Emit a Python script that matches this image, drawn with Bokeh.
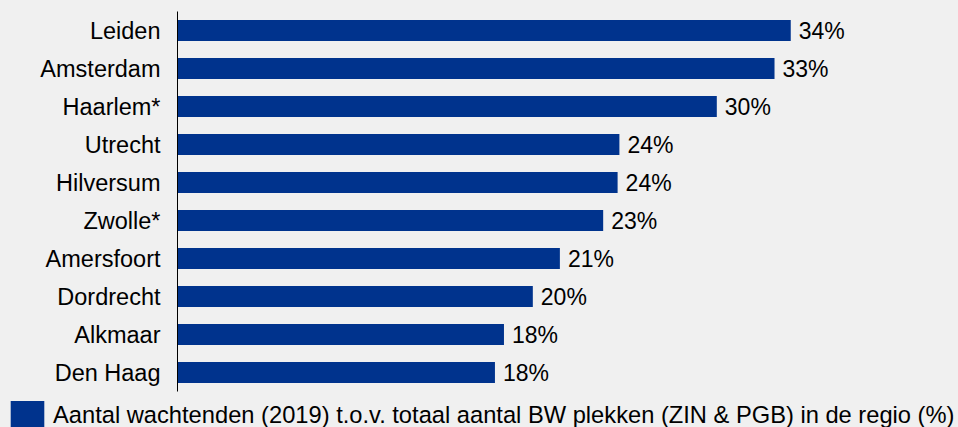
from bokeh.plotting import figure
from bokeh.models import ColumnDataSource, Range1d, FactorRange, Legend, LegendItem
from bokeh.layouts import column
from bokeh.core.properties import value
from bokeh.embed import file_html
from bokeh.resources import INLINE

cities = ["Leiden", "Amsterdam", "Haarlem*", "Utrecht", "Hilversum",
          "Zwolle*", "Amersfoort", "Dordrecht", "Alkmaar", "Den Haag"]
values = [34.0, 33.1, 29.9, 24.5, 24.4, 23.6, 21.2, 19.7, 18.1, 17.6]
labels = ["34%", "33%", "30%", "24%", "24%", "23%", "21%", "20%", "18%", "18%"]
legend_text = "Aantal wachtenden (2019) t.o.v. totaal aantal BW plekken (ZIN & PGB) in de regio (%)"

BG = "#f0f0f0"
BAR = "#00338D"
FONT = "Liberation Sans"

src = ColumnDataSource(dict(cities=cities, values=values, labels=labels))

p = figure(width=958, height=396, output_backend="svg", toolbar_location=None,
           y_range=FactorRange(*list(reversed(cities)), range_padding=0),
           x_range=Range1d(0, 43.3), x_axis_location=None,
           min_border_left=177, min_border_right=0, min_border_top=11,
           min_border_bottom=5)
p.background_fill_color = BG
p.border_fill_color = BG
p.outline_line_color = None
p.grid.visible = False

r = p.hbar(y="cities", right="values", left=0, height=0.55, source=src,
           fill_color=BAR, line_color=None)
p.text(x="values", y="cities", text="labels", source=src, x_offset=8,
       text_baseline="middle", text_align="left",
       text_font=value(FONT), text_font_size="23px", text_color="#000000")

ax = p.yaxis[0]
ax.axis_line_color = "#000000"
ax.axis_line_width = 1
ax.major_tick_line_color = None
ax.minor_tick_line_color = None
ax.major_tick_out = 0
ax.major_tick_in = 0
ax.major_label_standoff = 17
ax.major_label_text_font = FONT
ax.major_label_text_font_size = "23.5px"
ax.major_label_text_color = "#000000"

# legend strip below the chart
p2 = figure(width=958, height=31, output_backend="svg", toolbar_location=None,
            y_range=FactorRange(*cities), x_range=Range1d(-10, -5),
            x_axis_location=None, y_axis_location=None,
            min_border_left=0, min_border_right=0, min_border_top=0,
            min_border_bottom=0)
p2.background_fill_color = BG
p2.border_fill_color = BG
p2.outline_line_color = None
p2.grid.visible = False
r2 = p2.hbar(y="cities", right="values", left=0, height=0.55, source=src,
             fill_color=BAR, line_color=None)

for fig in (p, p2):
    if "frame_align" in fig.properties():
        fig.frame_align = False

lg = Legend(items=[LegendItem(label=legend_text, renderers=[r2])],
            location=(6, -6))
lg.margin = 0
lg.padding = 0
lg.border_line_color = None
lg.background_fill_alpha = 0
lg.glyph_width = 42
lg.glyph_height = 36
lg.label_height = 36
lg.label_standoff = 5
lg.label_text_font = FONT
lg.label_text_font_size = "23.7px"
lg.label_text_color = "#000000"
p2.add_layout(lg, "center")

layout = column(p, p2, spacing=0)

html = file_html(layout, INLINE)
html = html.replace("</head>", "<style>html,body{background:%s;overflow:hidden;}</style></head>" % BG, 1)
open("out.html", "w").write(html)
